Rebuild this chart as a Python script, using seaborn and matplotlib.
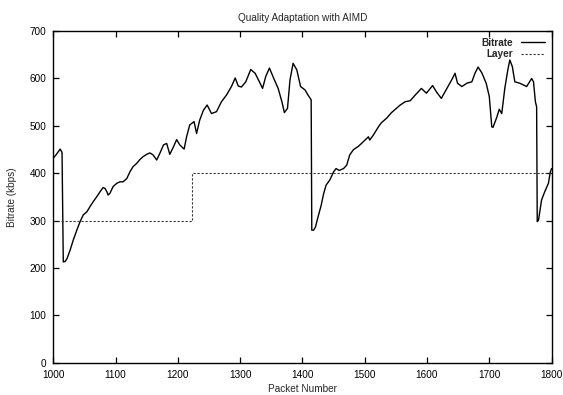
import matplotlib
matplotlib.use("Agg")
import matplotlib.pyplot as plt
import seaborn as sns
import pandas as pd

# Bitrate trace (packet number, kbps)
bitrate_packets = [
    1000, 1005, 1011, 1014, 1016, 1019, 1022, 1027, 1032, 1038, 1043, 1048,
    1054, 1059, 1064, 1070, 1075, 1080, 1083, 1086, 1088, 1091, 1096, 1102,
    1107, 1112, 1118, 1123, 1128, 1134, 1139, 1144, 1150, 1155, 1160, 1166,
    1171, 1177, 1182, 1187, 1193, 1198, 1203, 1210, 1214, 1219, 1226, 1230,
    1235, 1241, 1247, 1254, 1262, 1270, 1278, 1286, 1292, 1297, 1302, 1309,
    1317, 1324, 1329, 1336, 1341, 1347, 1354, 1361, 1367, 1371, 1376, 1380,
    1385, 1391, 1397, 1404, 1409, 1414, 1415, 1418, 1421, 1425, 1430, 1434,
    1438, 1444, 1450, 1454, 1459, 1466, 1471, 1476, 1482, 1490, 1498, 1506,
    1508, 1514, 1522, 1527, 1535, 1543, 1551, 1557, 1565, 1573, 1581, 1591,
    1599, 1609, 1615, 1623, 1632, 1640, 1645, 1649, 1656, 1664, 1672, 1677,
    1682, 1688, 1695, 1700, 1704, 1706, 1712, 1716, 1720, 1725, 1730, 1733,
    1737, 1741, 1749, 1760, 1768, 1771, 1774, 1776, 1777, 1779, 1784, 1789,
    1795, 1798, 1800,
]
bitrate_kbps = [
    432, 440, 451, 444, 213, 214, 220, 238, 259, 281, 298, 312,
    319, 330, 340, 351, 361, 370, 368, 361, 354, 358, 372, 379,
    382, 382, 389, 403, 414, 421, 429, 435, 440, 443, 439, 428,
    442, 460, 463, 440, 456, 471, 460, 451, 477, 502, 509, 484,
    512, 533, 544, 526, 530, 551, 565, 583, 601, 584, 582, 593,
    619, 611, 598, 579, 604, 622, 600, 579, 551, 528, 537, 597,
    632, 618, 583, 576, 565, 555, 280, 280, 287, 308, 332, 357,
    375, 386, 403, 410, 406, 410, 417, 439, 450, 457, 467, 477,
    470, 481, 498, 507, 516, 528, 537, 544, 551, 553, 565, 579,
    569, 585, 572, 558, 579, 598, 611, 590, 583, 590, 593, 611,
    624, 612, 590, 562, 498, 497, 518, 535, 526, 580, 620, 639,
    625, 593, 590, 583, 600, 593, 551, 540, 298, 301, 344, 361,
    379, 403, 410,
]

# Layer level (step changes)
layer_packets = [1000, 1222, 1800]
layer_kbps = [300, 400, 400]

x_ticks = [1000, 1100, 1200, 1300, 1400, 1500, 1600, 1700, 1800]
y_ticks = [0, 100, 200, 300, 400, 500, 600, 700]

sns.set_style("ticks")
plt.rcParams["font.family"] = ["Liberation Sans", "DejaVu Sans"]

bitrate_df = pd.DataFrame({"packet": bitrate_packets, "kbps": bitrate_kbps})
layer_df = pd.DataFrame({"packet": layer_packets, "kbps": layer_kbps})

fig = plt.figure(figsize=(5.63, 3.95), dpi=100)
ax = fig.add_axes([0.0947, 0.0813, 0.885, 0.8400])

sns.lineplot(data=bitrate_df, x="packet", y="kbps", ax=ax, color="black",
             linewidth=1.0, estimator=None, sort=False, label="Bitrate")
sns.lineplot(data=layer_df, x="packet", y="kbps", ax=ax, color="#333333",
             linewidth=0.8, estimator=None, sort=False, label="Layer",
             drawstyle="steps-post", dashes=False, linestyle=(0, (2.0, 1.6)))

ax.set_xlim(1000, 1800)
ax.set_ylim(0, 700)
ax.set_xticks(x_ticks)
ax.set_yticks(y_ticks)
ax.tick_params(direction="in", length=4, width=0.9, labelsize=7.2,
               top=True, right=True, pad=5, colors="black")
for side in ax.spines.values():
    side.set_visible(True)
    side.set_linewidth(1.0)
    side.set_color("black")

ax.set_title("Quality Adaptation with AIMD", fontsize=7.2, pad=7)
ax.set_xlabel("Packet Number", fontsize=7.2, labelpad=3)
ax.set_ylabel("Bitrate (kbps)", fontsize=7.2, labelpad=9)

leg = ax.legend(loc="upper right", frameon=False, fontsize=7.2,
                markerfirst=False, handlelength=2.4, handletextpad=0.8,
                labelspacing=0.15, borderaxespad=0.25)
for t in leg.get_texts():
    t.set_fontweight("bold")
    t.set_horizontalalignment("right")

fig.savefig("out.png", dpi=100)
